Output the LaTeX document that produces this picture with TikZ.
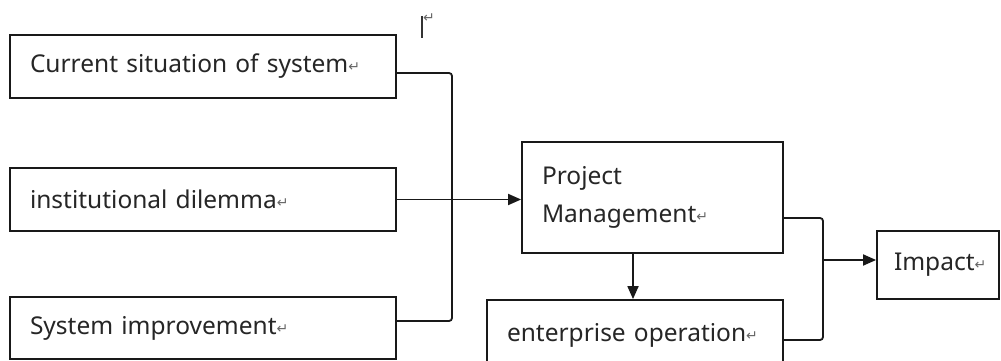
\documentclass[tikz,border=0pt]{standalone}
\usepackage{fontspec}
\setmainfont{Noto Sans}
\newfontfamily\symfont{DejaVu Sans}
\usetikzlibrary{arrows.meta,calc}
\newcommand{\retmark}{{\symfont\color{black!60}\fontsize{14}{14}\selectfont\raisebox{1pt}{↵}}}
\tikzset{
  box/.style={draw=black!90, line width=1.8pt, inner xsep=20pt, inner ysep=0pt, align=left,
              font=\fontsize{24.5}{38}\selectfont, text=black!85},
  conn/.style={draw=black!90, line width=1.8pt, rounded corners=3pt},
  arr/.style={conn, -{Triangle[length=13pt,width=11pt]}}
}
\begin{document}
\begin{tikzpicture}[x=1pt,y=-1pt]
\useasboundingbox (0,0) rectangle (1001,361);
\node[box, minimum width=386pt, minimum height=63pt, text width=346pt] (b1) at (203,66.5) {Current situation of system\retmark};
\node[box, minimum width=386pt, minimum height=63pt, text width=346pt] (b2) at (203,199.5) {institutional dilemma\retmark};
\node[box, minimum width=386pt, minimum height=62pt, text width=346pt] (b3) at (203,328) {System improvement\retmark};
\node[box, minimum width=261pt, minimum height=111pt, text width=221pt] (pm) at (652.5,197.5) {Project\\Management\retmark};
\node[box, minimum width=296pt, minimum height=70pt, text width=256pt] (ent) at (635,335) {enterprise operation\retmark};
\node[box, minimum width=122pt, minimum height=68pt, text width=88pt, inner xsep=17pt] (imp) at (938,265) {Impact\retmark};
\node[inner sep=0pt, anchor=north west] (mark) at (421,14) {\color{black!80}\rule{1.8pt}{22pt}\raisebox{14pt}{\retmark}};
\coordinate (j1) at (452,200);
\coordinate (j2) at (823,260);
\draw[conn] ([yshift=-6.5pt]b1.east) -| (j1) |- ([yshift=7pt]b3.east);
\draw[arr] (b2.east) -- (b2.east -| pm.west);
\draw[arr] ([xshift=-19.5pt]pm.south) -- ([xshift=-19.5pt]pm.south |- ent.north);
\draw[conn] ([yshift=-20.5pt]pm.east) -| (j2) |- ([yshift=-5pt]ent.east);
\draw[arr] (j2) -- (j2 -| imp.west);
\end{tikzpicture}
\end{document}
